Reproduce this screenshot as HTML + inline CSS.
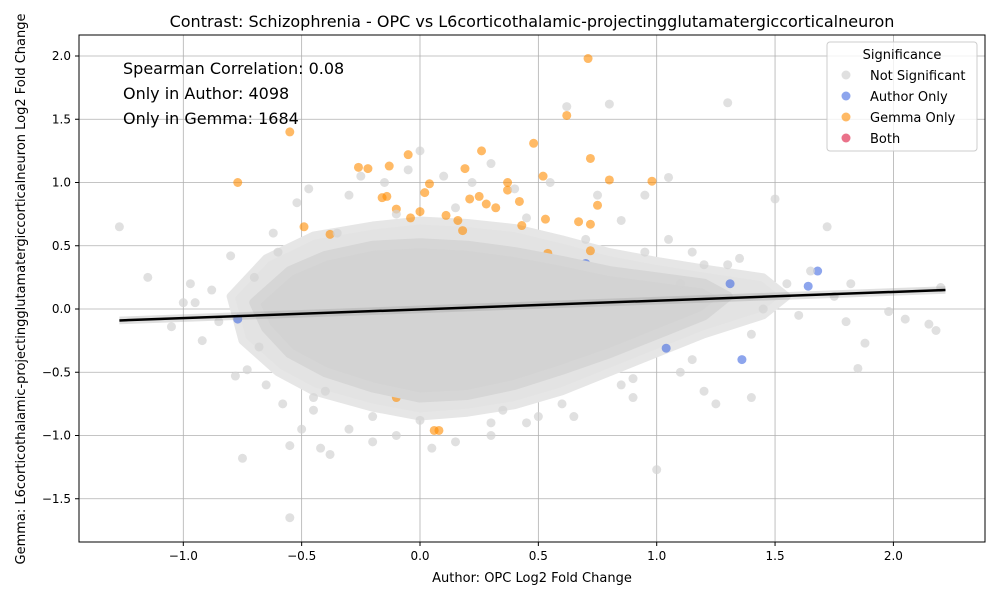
<!DOCTYPE html>
<html><head><meta charset="utf-8"><style>
body{margin:0;background:#fff;font-family:"Liberation Sans","DejaVu Sans",sans-serif}
svg text{font-family:"DejaVu Sans","Liberation Sans",sans-serif}
</style></head><body>
<svg id="chart" width="1000" height="600" xmlns="http://www.w3.org/2000/svg">
<rect width="1000" height="600" fill="#fff"/>
<g id="grid"></g>
<g id="fringe"></g>
<g id="sig"></g>
<g id="core"></g>
<g id="pts"></g>
<g id="fit"></g>
<rect x="79" y="35" width="906" height="507" fill="none" stroke="#000" stroke-width="1"/>
<g id="ticks"></g>
<text x="532" y="27" text-anchor="middle" font-size="16">Contrast: Schizophrenia - OPC vs L6corticothalamic-projectingglutamatergiccorticalneuron</text>
<text x="532" y="582" text-anchor="middle" font-size="13">Author: OPC Log2 Fold Change</text>
<text transform="translate(25,289) rotate(-90)" text-anchor="middle" font-size="13">Gemma: L6corticothalamic-projectingglutamatergiccorticalneuron Log2 Fold Change</text>
<g font-size="16">
<text x="123" y="74">Spearman Correlation: 0.08</text>
<text x="123" y="99">Only in Author: 4098</text>
<text x="123" y="124">Only in Gemma: 1684</text>
</g>
<g>
<rect x="827" y="42" width="150" height="109" rx="3" fill="#fff" fill-opacity="0.8" stroke="#ccc"/>
<text x="902" y="59" text-anchor="middle" font-size="13">Significance</text>
<g><circle cx="846" cy="75" r="4.5" fill="#d3d3d3" opacity="0.7"/><text x="870" y="80" font-size="13">Not Significant</text></g>
<g><circle cx="846" cy="96" r="4.5" fill="#4169e1" opacity="0.6"/><text x="870" y="101" font-size="13">Author Only</text></g>
<g><circle cx="846" cy="117" r="4.5" fill="#ff8c00" opacity="0.6"/><text x="870" y="122" font-size="13">Gemma Only</text></g>
<g><circle cx="846" cy="138" r="4.5" fill="#dc143c" opacity="0.6"/><text x="870" y="143" font-size="13">Both</text></g>
</g>
</svg>
<script>
const xTicks=[-1.0,-0.5,0.0,0.5,1.0,1.5,2.0];
const yTicks=[-1.5,-1.0,-0.5,0.0,0.5,1.0,1.5,2.0];
const greyX=[-1.27,-1.05,-1.0,-0.97,-0.92,-0.88,-0.85,-0.8,-0.78,-0.75,-0.73,-0.7,-0.65,-0.62,-0.58,-0.55,-0.52,-0.5,-0.47,-0.45,-0.42,-0.38,-0.3,-0.3,-0.25,-0.2,-0.15,-0.1,-0.05,0.0,0.05,0.1,0.15,0.22,0.3,0.3,0.4,0.45,0.55,0.62,0.65,0.75,0.8,0.85,0.9,0.95,1.0,1.05,1.05,1.1,1.15,1.2,1.3,1.35,1.4,1.45,1.5,1.55,1.6,1.72,1.75,1.8,1.82,1.85,1.88,1.98,2.05,2.15,2.18,2.2,1.25,1.4,0.5,-0.55,-1.15,-0.95,1.65,1.3,1.1,-0.6,-0.35,-0.1,0.15,0.45,0.7,0.95,1.2,-0.45,-0.2,0.3,0.6,0.9,1.15,-0.68,-0.4,0.0,0.35,0.85];
const greyY=[0.65,-0.14,0.05,0.2,-0.25,0.15,-0.1,0.42,-0.53,-1.18,-0.48,0.25,-0.6,0.6,-0.75,-1.08,0.84,-0.95,0.95,-0.8,-1.1,-1.15,0.9,-0.95,1.05,-1.05,1.0,-1.0,1.1,1.25,-1.1,1.05,-1.05,1.0,1.15,-1.0,0.95,-0.9,1.0,1.6,-0.85,0.9,1.62,0.7,-0.7,0.9,-1.27,0.55,1.04,-0.5,0.45,-0.65,1.63,0.4,-0.2,0.0,0.87,0.2,-0.05,0.65,0.1,-0.1,0.2,-0.47,-0.27,-0.02,-0.08,-0.12,-0.17,0.17,-0.75,-0.7,-0.85,-1.65,0.25,0.05,0.3,0.35,0.2,0.45,0.6,0.75,0.8,0.72,0.55,0.45,0.35,-0.7,-0.85,-0.9,-0.75,-0.55,-0.4,-0.3,-0.65,-0.88,-0.8,-0.6];
const fringeX=[-0.8,-0.65,-0.45,-0.2,0,0.2,0.4,0.6,0.8,1.0,1.2,1.45,1.55,1.45,1.2,1.0,0.8,0.6,0.4,0.2,0,-0.2,-0.45,-0.6,-0.75];
const fringeY=[0.1,0.4,0.58,0.66,0.7,0.68,0.64,0.55,0.45,0.38,0.32,0.25,0.1,-0.05,-0.2,-0.35,-0.5,-0.65,-0.76,-0.82,-0.85,-0.78,-0.65,-0.5,-0.25];
const coreX=[-0.7,-0.55,-0.4,-0.2,0,0.2,0.4,0.6,0.8,1.0,1.2,1.3,1.2,1.0,0.8,0.6,0.4,0.2,0,-0.2,-0.4,-0.55,-0.65];
const coreY=[0.05,0.3,0.42,0.5,0.52,0.5,0.45,0.38,0.3,0.25,0.2,0.1,-0.05,-0.2,-0.35,-0.48,-0.6,-0.68,-0.7,-0.62,-0.5,-0.35,-0.15];
const gemmaX=[-0.77,-0.55,-0.49,-0.38,-0.26,-0.22,-0.13,-0.16,-0.14,-0.10,-0.05,-0.04,0.00,0.02,0.04,0.06,0.08,0.11,0.16,0.19,0.18,0.21,0.25,0.26,0.28,0.32,0.37,0.37,0.42,0.43,0.48,0.52,0.53,0.54,0.62,0.71,0.72,0.75,0.80,0.98,0.67,0.72,-0.2,-0.05,0.1,0.3,-0.3,0.05,-0.1,-0.2,0.72];
const gemmaY=[1.00,1.40,0.65,0.59,1.12,1.11,1.13,0.88,0.89,0.79,1.22,0.72,0.77,0.92,0.99,-0.96,-0.96,0.74,0.70,1.11,0.62,0.87,0.89,1.25,0.83,0.80,1.00,0.94,0.85,0.66,1.31,1.05,0.71,0.44,1.53,1.98,1.19,0.82,1.02,1.01,0.69,0.67,0.32,0.4,0.35,0.3,-0.5,-0.6,-0.7,-0.62,0.46];
const authorX=[1.31,1.36,1.64,1.68,1.04,0.70,-0.77,-0.55,-0.37,0.4];
const authorY=[0.20,-0.40,0.18,0.30,-0.31,0.36,-0.08,-0.13,-0.09,0.07];
const fitX=[-1.27,2.22];
const fitSlope=0.069, fitIntercept=-0.003;

const X=v=>420+v*236.7, Y=v=>309-v*126.5;
const NS="http://www.w3.org/2000/svg";
function mk(t,a,p){const e=document.createElementNS(NS,t);for(const k in a)e.setAttribute(k,a[k]);p.appendChild(e);return e;}
const grid=document.getElementById('grid'),ticks=document.getElementById('ticks');
xTicks.forEach(t=>{
 const l=mk('line',{x1:X(t),x2:X(t),y1:35,y2:542,stroke:'#b0b0b0','stroke-width':0.8},grid);
 
 
 mk('line',{x1:X(t),x2:X(t),y1:542,y2:546,stroke:'#000'},ticks);
 const tx=mk('text',{x:X(t),y:560,'text-anchor':'middle','font-size':12},ticks);
 tx.textContent=(t<0?'\u2212':'')+Math.abs(t).toFixed(1);
 
 
});
yTicks.forEach(t=>{
 const l=mk('line',{x1:79,x2:985,y1:Y(t),y2:Y(t),stroke:'#b0b0b0','stroke-width':0.8},grid);
 
 
 mk('line',{x1:75,x2:79,y1:Y(t),y2:Y(t),stroke:'#000'},ticks);
 const tx=mk('text',{x:71,y:Y(t)+4,'text-anchor':'end','font-size':12},ticks);
 tx.textContent=(t<0?'\u2212':'')+Math.abs(t).toFixed(1);
 
 
});
const fr=mk('polygon',{points:fringeX.map((x,i)=>X(x)+','+Y(fringeY[i])).join(' '),fill:'#e3e3e3',stroke:'#e6e6e6','stroke-width':8,'stroke-linejoin':'round'},document.getElementById('fringe'));


const sig=document.getElementById('sig');
gemmaX.forEach((x,i)=>{const c=mk('circle',{cx:X(x),cy:Y(gemmaY[i]),r:4.5,fill:'#ff8c00','fill-opacity':0.6},sig);
 
 });
authorX.forEach((x,i)=>{const c=mk('circle',{cx:X(x),cy:Y(authorY[i]),r:4.5,fill:'#4169e1','fill-opacity':0.6},sig);
 
 });
const core=mk('polygon',{points:coreX.map((x,i)=>X(x)+','+Y(coreY[i])).join(' '),fill:'#d3d3d3',stroke:'#d6d6d6','stroke-width':10,'stroke-linejoin':'round'},document.getElementById('core'));


const pts=document.getElementById('pts');
greyX.forEach((x,i)=>{const c=mk('circle',{cx:X(x),cy:Y(greyY[i]),r:4.5,fill:'#d3d3d3','fill-opacity':0.7},pts);
 
 });
const fit=document.getElementById('fit');
const fy=x=>fitIntercept+fitSlope*x;
const band=mk('polygon',{points:[X(fitX[0])+','+Y(fy(fitX[0])+0.03),X(fitX[1])+','+Y(fy(fitX[1])+0.03),X(fitX[1])+','+Y(fy(fitX[1])-0.03),X(fitX[0])+','+Y(fy(fitX[0])-0.03)].join(' '),fill:'#999','fill-opacity':0.3},fit);


const ln=mk('line',{x1:X(fitX[0]),y1:Y(fy(fitX[0])),x2:X(fitX[1]),y2:Y(fy(fitX[1])),stroke:'#000','stroke-width':2.5},fit);


</script>
</body></html>
